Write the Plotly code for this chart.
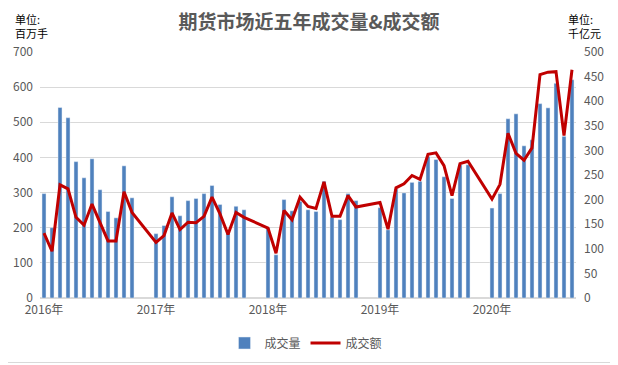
import plotly.graph_objects as go

# ---- data ----
months = [f"{y}-{m:02d}" for y in range(2016, 2020) for m in range(1, 13)] + \
         [f"2020-{m:02d}" for m in range(1, 12)]

volume = [  # 成交量 (百万手)
    297, 200, 542, 513, 388, 342, 396, 308, 246, 228, 376, 285,
    183, 206, 288, 234, 277, 283, 297, 320, 266, 190, 261, 251,
    200, 123, 280, 248, 275, 251, 246, 332, 230, 223, 297, 277,
    257, 194, 310, 299, 329, 332, 403, 394, 345, 283, 379, 379,
    256, 297, 510, 524, 433, 450, 553, 541, 611, 460, 621,
]
turnover = [  # 成交额 (千亿元)
    132, 95, 230, 222, 164, 148, 191, 152, 116, 116, 216, 174,
    113, 127, 173, 139, 154, 153, 166, 205, 171, 129, 174, 164,
    142, 91, 178, 159, 205, 186, 182, 236, 166, 166, 208, 185,
    194, 140, 224, 232, 249, 241, 292, 295, 269, 208, 273, 278,
    201, 231, 335, 294, 280, 305, 454, 459, 460, 330, 464,
]
years = [2016, 2017, 2018, 2019, 2020]
year_labels = [f"{y}年" for y in years]

# each year occupies 12 month slots + 2 empty slots on the category axis
SLOTS_PER_YEAR = 14
def slot(m):
    y, mo = m.split("-")
    return (int(y) - years[0]) * SLOTS_PER_YEAR + int(mo) - 1

xs = [slot(m) for m in months]
year_ticks = [(y - years[0]) * SLOTS_PER_YEAR for y in years]
n_slots = slot(months[-1]) + 1

FONT = "Noto Sans CJK SC"
GRAY = "#595959"

fig = go.Figure()
fig.add_trace(go.Bar(x=xs, y=volume, name="成交量", marker_color="#4F81BD",
                     width=0.5, customdata=months, yaxis="y"))
fig.add_trace(go.Scatter(x=xs, y=turnover, name="成交额", mode="lines",
                         line=dict(color="#C00000", width=3), yaxis="y2"))

# page is shown with the browser's default 8px body margin -> offset layout
OFF = 8
W, H = 618, 365
L, R, T, B = 40 - OFF, W - (576 - OFF), 52 - OFF, H - (298 - OFF)
PW, PH = W - L - R, H - T - B
def fx(page_x):
    return (page_x - OFF - L) / PW
def fy(page_y):
    return (H - B - (page_y - OFF)) / PH

fig.update_layout(
    width=W, height=H,
    margin=dict(l=L, r=R, t=T, b=B, autoexpand=False),
    paper_bgcolor="white", plot_bgcolor="white",
    font=dict(family=FONT, size=12, color=GRAY),
    title=dict(text="<b>期货市场近五年成交量&成交额</b>",
               x=(309 - OFF) / W, xanchor="center",
               y=1 - (22 - OFF) / H, yanchor="middle",
               font=dict(family=FONT, size=19, color=GRAY)),
    xaxis=dict(range=[-0.5, n_slots - 0.5], tickmode="array",
               tickvals=year_ticks, ticktext=year_labels,
               showgrid=False, zeroline=False, showline=False,
               ticks="", ticklabelstandoff=3,
               tickfont=dict(family=FONT, size=12, color=GRAY)),
    yaxis=dict(range=[0, 700], dtick=100, showgrid=True, gridcolor="#D9D9D9",
               gridwidth=1, zeroline=True, zerolinecolor="#D9D9D9",
               showline=False, ticks="", ticklabelstandoff=6,
               tickfont=dict(family=FONT, size=12, color=GRAY)),
    yaxis2=dict(range=[0, 500], dtick=50, overlaying="y", side="right",
                showgrid=False, zeroline=False, showline=False, ticks="",
                ticklabelstandoff=7,
                tickfont=dict(family=FONT, size=12, color=GRAY)),
    legend=dict(orientation="h", x=(306 - OFF) / W, xanchor="center",
                xref="container", yref="container", y=1 - (343 - OFF) / H,
                yanchor="middle", font=dict(family=FONT, size=12, color=GRAY),
                itemwidth=30, bgcolor="rgba(0,0,0,0)"),
    showlegend=True,
)

fig.add_annotation(text="单位:<br>百万手", xref="paper", yref="paper",
                   x=fx(13), y=fy(8.5), xanchor="left", yanchor="top",
                   align="left", showarrow=False,
                   font=dict(family=FONT, size=11, color="#000000"))
fig.add_annotation(text="单位:<br>千亿元", xref="paper", yref="paper",
                   x=fx(566), y=fy(8.5), xanchor="left", yanchor="top",
                   align="left", showarrow=False,
                   font=dict(family=FONT, size=11, color="#000000"))

# chart-area border (only right and bottom edges fall inside the visible page)
fig.add_shape(type="line", xref="paper", yref="paper",
              x0=fx(616.5), x1=fx(616.5), y0=fy(8), y1=fy(362.5),
              line=dict(color="#D9D9D9", width=1), layer="below")
fig.add_shape(type="line", xref="paper", yref="paper",
              x0=fx(8), x1=fx(616.5), y0=fy(362.5), y1=fy(362.5),
              line=dict(color="#D9D9D9", width=1), layer="below")

fig.write_html("out.html")
